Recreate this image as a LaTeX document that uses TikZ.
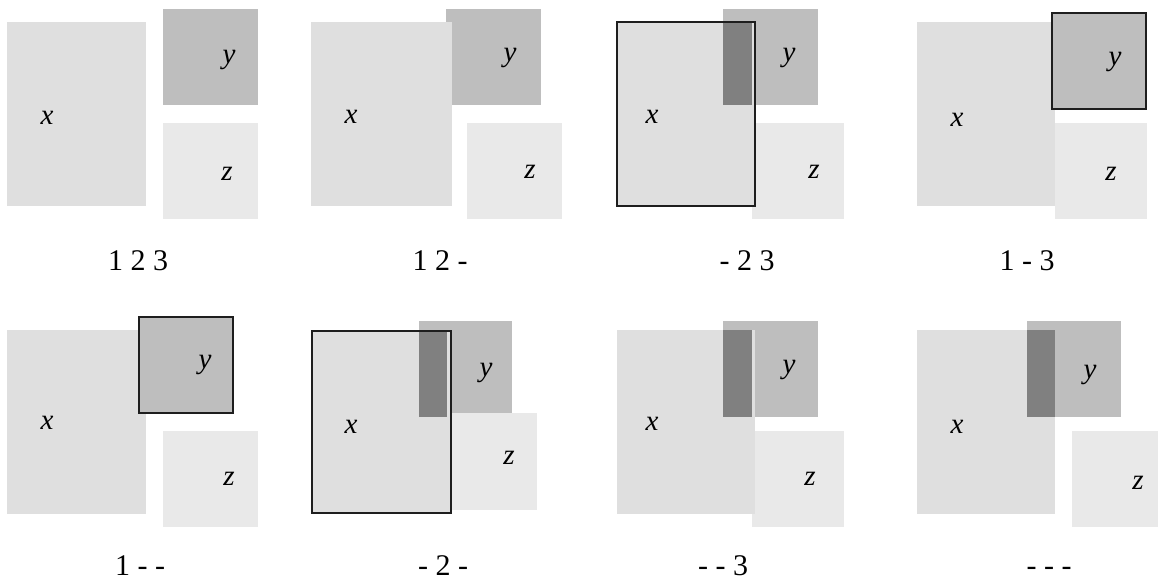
\documentclass[tikz,border=0pt]{standalone}
\usepackage{fontspec}
\setmainfont{Liberation Serif}
\definecolor{xcol}{RGB}{223,223,223}
\definecolor{ycol}{RGB}{190,190,190}
\definecolor{zcol}{RGB}{233,233,233}
\definecolor{ovcol}{RGB}{128,128,128}
\definecolor{edgecol}{RGB}{30,30,30}
\tikzset{
  xfill/.style={fill=xcol},
  yfill/.style={fill=ycol},
  zfill/.style={fill=zcol},
  ovfill/.style={fill=ovcol},
  edgeline/.style={draw=edgecol, line width=1.3pt},
  labtext/.style={inner sep=0pt, font=\fontsize{29}{32}\selectfont\itshape},
  captext/.style={inner sep=0pt, anchor=base, font=\fontsize{30}{34}\selectfont}
}
\begin{document}
\begin{tikzpicture}[x=1pt,y=-1pt]
\clip (0,0) rectangle (1158,580);
\fill[white] (0,0) rectangle (1158,580);
% Panel 1: 1 2 3
\fill[yfill] (163,9) rectangle (258,105);
\fill[zfill] (163,123) rectangle (258,219);
\fill[xfill] (7,22) rectangle (146,206);
\node[labtext] (x1) at (47,118) {x};
\node[labtext] (y1) at (229,60) {y};
\node[labtext] (z1) at (227,174) {z};
\node[captext] (c1) at (138,270) {1 2 3};
% Panel 2: 1 2 -
\fill[yfill] (446,9) rectangle (541,105);
\fill[zfill] (467,123) rectangle (562,219);
\fill[xfill] (311,22) rectangle (452,206);
\node[labtext] (x2) at (351,117) {x};
\node[labtext] (y2) at (510,58) {y};
\node[labtext] (z2) at (530,172) {z};
\node[captext] (c2) at (440,270) {1 2 -};
% Panel 3: - 2 3
\fill[yfill] (723,9) rectangle (818,105);
\fill[zfill] (752,123) rectangle (844,219);
\fill[xfill] (617,22) rectangle (755,206);
\fill[ovfill] (723,22) rectangle (752,105);
\draw[edgeline] (617,22) rectangle (755,206);
\node[labtext] (x3) at (652,117) {x};
\node[labtext] (y3) at (789,58) {y};
\node[labtext] (z3) at (814,172) {z};
\node[captext] (c3) at (747,270) {- 2 3};
% Panel 4: 1 - 3
\fill[xfill] (917,22) rectangle (1055,206);
\fill[zfill] (1055,123) rectangle (1147,219);
\fill[yfill] (1052,13) rectangle (1146,109);
\draw[edgeline] (1052,13) rectangle (1146,109);
\node[labtext] (x4) at (957,120) {x};
\node[labtext] (y4) at (1115,62) {y};
\node[labtext] (z4) at (1111,174) {z};
\node[captext] (c4) at (1027,270) {1 - 3};
% Panel 5: 1 - -
\fill[xfill] (7,330) rectangle (146,514);
\fill[zfill] (163,431) rectangle (258,527);
\fill[yfill] (139,317) rectangle (233,413);
\draw[edgeline] (139,317) rectangle (233,413);
\node[labtext] (x5) at (47,423) {x};
\node[labtext] (y5) at (205,365) {y};
\node[labtext] (z5) at (229,479) {z};
\node[captext] (c5) at (140,575.5) {1 - -};
% Panel 6: - 2 -
\fill[yfill] (419,321) rectangle (512,417);
\fill[zfill] (442,413) rectangle (537,510);
\fill[xfill] (312,331) rectangle (451,513);
\fill[ovfill] (419,331) rectangle (447,417);
\draw[edgeline] (312,331) rectangle (451,513);
\node[labtext] (x6) at (351,427) {x};
\node[labtext] (y6) at (486,373) {y};
\node[labtext] (z6) at (509,458) {z};
\node[captext] (c6) at (443,575.5) {- 2 -};
% Panel 7: - - 3
\fill[yfill] (723,321) rectangle (818,417);
\fill[zfill] (752,431) rectangle (844,527);
\fill[xfill] (617,330) rectangle (755,514);
\fill[ovfill] (723,330) rectangle (752,417);
\node[labtext] (x7) at (652,424) {x};
\node[labtext] (y7) at (789,370) {y};
\node[labtext] (z7) at (810,479) {z};
\node[captext] (c7) at (723,575.5) {- - 3};
% Panel 8: - - -
\fill[yfill] (1027,321) rectangle (1121,417);
\fill[zfill] (1072,431) rectangle (1167,527);
\fill[xfill] (917,330) rectangle (1055,514);
\fill[ovfill] (1027,330) rectangle (1055,417);
\node[labtext] (x8) at (957,427) {x};
\node[labtext] (y8) at (1090,375) {y};
\node[labtext] (z8) at (1138,483) {z};
\node[captext] (c8) at (1049,575.5) {- - -};
\end{tikzpicture}
\end{document}
